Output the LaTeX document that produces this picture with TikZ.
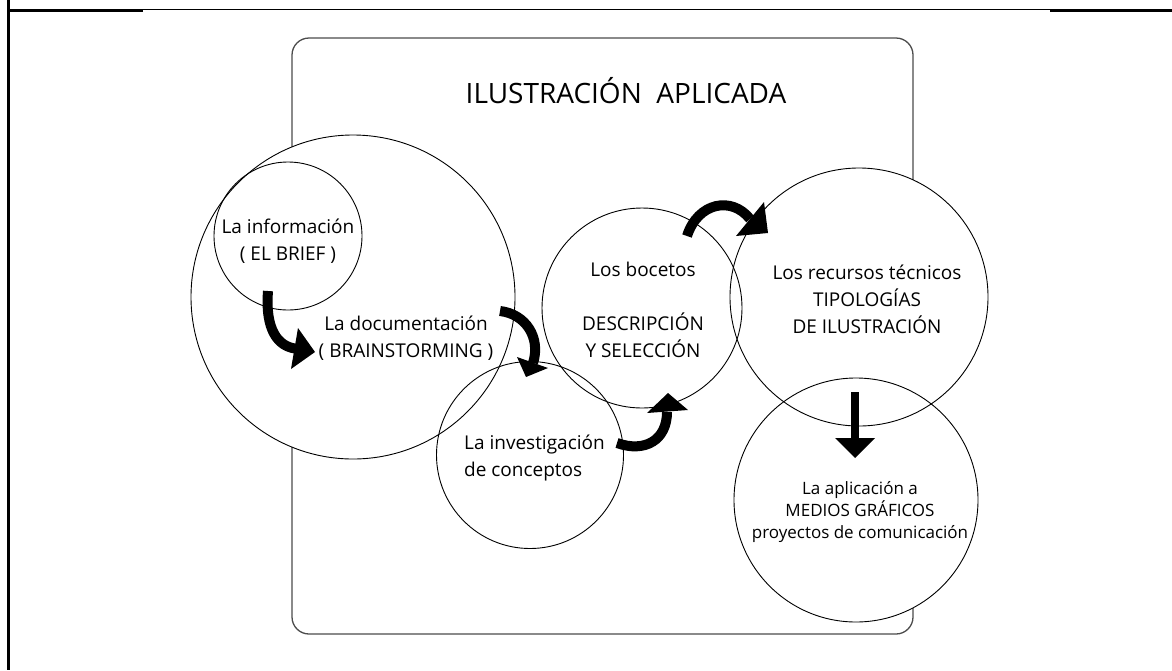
\documentclass[tikz,border=0pt]{standalone}
\usepackage{fontspec}
\setmainfont{Open Sans}
\pgfdeclarelayer{framelayer}
\pgfdeclarelayer{filllayer}
\pgfsetlayers{framelayer,filllayer,main}
\begin{document}
\begin{tikzpicture}[x=1pt,y=-1pt,
  ring/.style={circle, draw=black, line width=0.9pt, minimum size=#1, inner sep=0pt},
  txt/.style={inner sep=0pt, font=\fontsize{19}{27}\selectfont, align=center},
  smalltxt/.style={inner sep=0pt, font=\fontsize{17}{22}\selectfont, align=center},
  shaft/.style={line width=10pt, black},
  arrowhead/.style={fill=black, draw=none}]
\useasboundingbox (0,0) rectangle (1172,670);
% outer frame lines
\draw[line width=2.6pt] (8.2,0) -- (8.2,670);
\draw[line width=1.3pt] (8,9.65) -- (1172,9.65);
\draw[line width=2.7pt] (7,10.35) -- (143,10.35);
\draw[line width=2.7pt] (1050,10.35) -- (1172,10.35);
% rounded frame (behind the circles)
\begin{pgfonlayer}{framelayer}
\node[draw=black!70, line width=1.3pt, rounded corners=17pt, minimum width=621pt, minimum height=596pt, inner sep=0pt] (frame) at (602.5,336) {};
\end{pgfonlayer}
\node[inner sep=0pt, font=\fontsize{28}{34}\selectfont, anchor=base] (title) at (626,103) {ILUSTRACIÓN~~APLICADA};
% circles
\node[ring=324pt] (doc) at (353,297) {};
\node[ring=148pt] (info) at (288,236) {};
\node[ring=187pt] (inv) at (530,455) {};
\node[ring=200pt] (boc) at (642,308) {};
\node[ring=258pt] (rec) at (859,297) {};
\node[ring=244pt] (apl) at (856,500) {};
\begin{pgfonlayer}{filllayer}
\fill[white] (doc.center) circle[radius=162pt];
\fill[white] (info.center) circle[radius=74pt];
\fill[white] (inv.center) circle[radius=93.5pt];
\fill[white] (boc.center) circle[radius=100pt];
\fill[white] (rec.center) circle[radius=129pt];
\fill[white] (apl.center) circle[radius=122pt];
\end{pgfonlayer}
% texts
\node[txt] (tinfo) at (288,241) {La información\\( EL BRIEF )};
\node[txt] (tdoc) at (406,338) {La documentación\\( BRAINSTORMING )};
\node[txt] (tboc) at (643,310) {Los bocetos\\[27pt]DESCRIPCIÓN\\Y SELECCIÓN};
\node[txt, align=left, anchor=west] (tinv) at (464,458) {La investigación\\de conceptos};
\node[txt] (trec) at (867,299) {Los recursos técnicos\\TIPOLOGÍAS\\DE ILUSTRACIÓN};
\node[smalltxt] (tapl) at (860,512) {La aplicación a\\MEDIOS GRÁFICOS\\proyectos de comunicación};
% arrows
\coordinate (a1s) at (268,291); \coordinate (a1e) at (295,348.5);
\draw[shaft] (a1s) .. controls (265,330) and (278,346) .. (a1e);
\fill[arrowhead] (298,328) -- (315,352) -- (291,369) -- cycle;
\coordinate (a2s) at (500,311); \coordinate (a2e) at (533,363);
\draw[shaft] (a2s) .. controls (526,314) and (541,338) .. (a2e);
\fill[arrowhead] (517,357) -- (548,368) -- (526,377) -- cycle;
\coordinate (a3s) at (617,443); \coordinate (a3e) at (667,412);
\draw[shaft] (a3s) .. controls (645,453) and (667,440) .. (a3e);
\fill[arrowhead] (647,413) -- (688,410) -- (668,393) -- cycle;
\coordinate (a4s) at (687,236); \coordinate (a4e) at (750,219);
\draw[shaft] (a4s) .. controls (698,202) and (732,196) .. (a4e);
\fill[arrowhead] (764,202) -- (768,233) -- (736,236) -- cycle;
\coordinate (a5s) at (855,392); \coordinate (a5e) at (855,440);
\draw[line width=8.5pt] (a5s) -- (a5e);
\fill[arrowhead] (835,438) -- (875,438) -- (855,458) -- cycle;
\end{tikzpicture}
\end{document}
